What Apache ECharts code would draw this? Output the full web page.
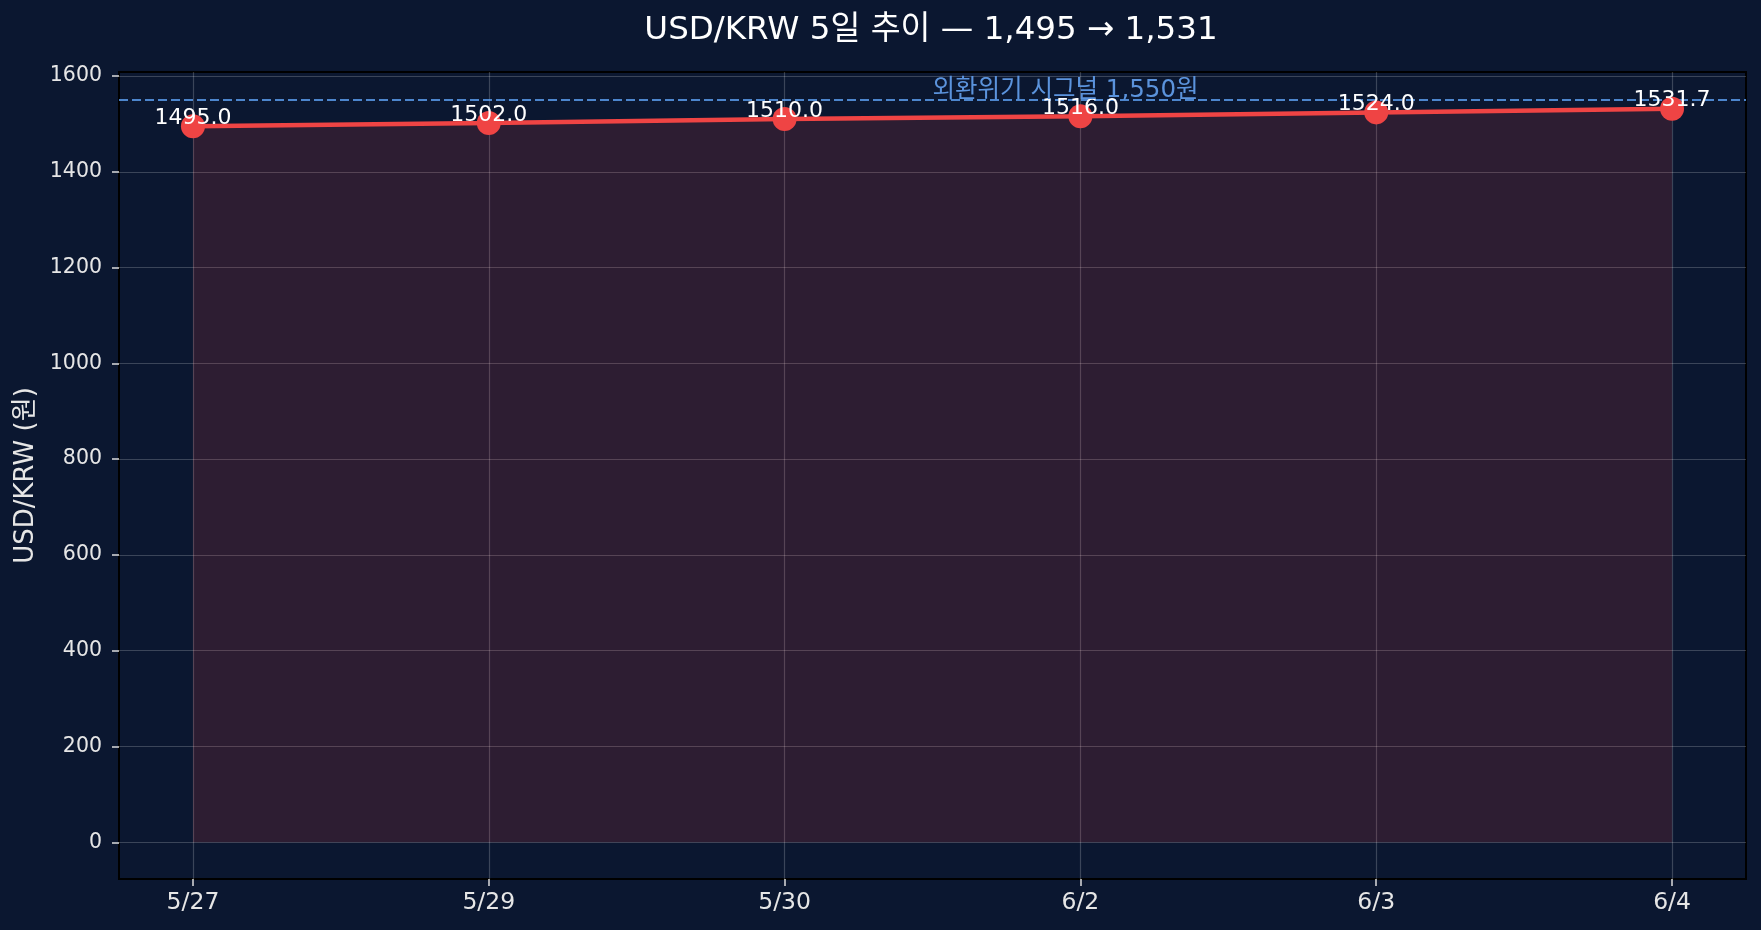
<!DOCTYPE html>
<html>
<head>
<meta charset="utf-8">
<script src="https://cdn.jsdelivr.net/npm/echarts@6/dist/echarts.min.js"></script>
<style>
html,body{margin:0;padding:0;background:#0b1730;}
#chart{width:1761px;height:930px;}
</style>
</head>
<body>
<div id="chart"></div>
<script>
const dates = ['5/27', '5/29', '5/30', '6/2', '6/3', '6/4'];
const rates = [1495.0, 1502.0, 1510.0, 1516.0, 1524.0, 1531.7];
const signalLevel = 1550;
const signalText = '외환위기 시그널 1,550원';
const signalTextX = 2.5;
const yTicks = [0, 200, 400, 600, 800, 1000, 1200, 1400, 1600];
const titleText = 'USD/KRW 5일 추이 — 1,495 → 1,531';
const yAxisTitle = 'USD/KRW (원)';

const FONT = "'DejaVu Sans', 'Noto Sans CJK KR', sans-serif";
const xIdx = dates.map((d, i) => i);
const lineData = rates.map((v, i) => [i, v]);

const chart = echarts.init(document.getElementById('chart'), null, {renderer: 'canvas'});
chart.setOption({
  backgroundColor: '#0b1730',
  animation: false,
  textStyle: {fontFamily: FONT},
  graphic: [{
    type: 'text',
    x: 931, y: 31,
    style: {
      text: titleText,
      fill: '#ffffff',
      font: "32.5px 'DejaVu Sans', 'Noto Sans CJK KR', sans-serif",
      textAlign: 'center',
      textVerticalAlign: 'middle'
    }
  }],
  grid: {
    left: 119, right: 15, top: 72, bottom: 51,
    show: true, borderColor: '#000000', borderWidth: 2,
    backgroundColor: '#0b1730'
  },
  xAxis: {
    type: 'value',
    min: -0.25, max: 5.25,
    axisLine: {show: false, onZero: false},
    axisTick: {show: true, length: 7, lineStyle: {color: '#dddddd', width: 1.5}, customValues: xIdx},
    axisLabel: {
      customValues: xIdx, margin: 12,
      color: '#e6e6e6', fontSize: 23.5, fontFamily: FONT,
      formatter: v => dates[Math.round(v)] || ''
    },
    splitLine: {show: true, lineStyle: {color: 'rgba(255,255,255,0.2)', width: 1.2}}
  },
  yAxis: {
    type: 'value',
    min: -76.6, max: 1608.3,
    name: yAxisTitle, nameLocation: 'middle', nameGap: 77,
    nameTextStyle: {color: '#e6e6e6', fontSize: 26, fontFamily: FONT},
    axisLine: {show: false, onZero: false},
    axisTick: {show: true, length: 7, lineStyle: {color: '#dddddd', width: 1.5}, customValues: yTicks},
    axisLabel: {
      customValues: yTicks, margin: 17, color: '#e6e6e6', fontSize: 20.5, fontFamily: FONT,
      formatter: v => String(v)
    },
    splitLine: {show: true, lineStyle: {color: 'rgba(255,255,255,0.2)', width: 1.2}}
  },
  series: [{
    type: 'line',
    data: lineData,
    symbol: 'circle',
    symbolSize: 24,
    itemStyle: {color: '#ef4444'},
    lineStyle: {color: '#ef4444', width: 4.5},
    areaStyle: {color: '#ef4444', opacity: 0.15, origin: 0},
    label: {
      show: true, position: 'top', distance: -15,
      color: '#ffffff', fontSize: 22, fontFamily: FONT,
      formatter: p => p.value[1].toFixed(1)
    },
    z: 3,
    markLine: {
      silent: true, symbol: 'none',
      lineStyle: {color: 'rgba(96,165,250,0.78)', type: [9, 4], width: 2.2},
      label: {show: false},
      data: [{yAxis: signalLevel}],
      z: 2
    },
    markPoint: {
      silent: true, symbol: 'circle', symbolSize: 0,
      itemStyle: {color: 'transparent'},
      label: {
        show: true, position: [0, 0], offset: [0, -9],
        align: 'left', verticalAlign: 'middle',
        color: '#5b93dc', fontSize: 24.5, fontFamily: FONT,
        formatter: () => signalText
      },
      data: [{coord: [signalTextX, signalLevel]}]
    }
  }]
});
</script>
</body>
</html>
